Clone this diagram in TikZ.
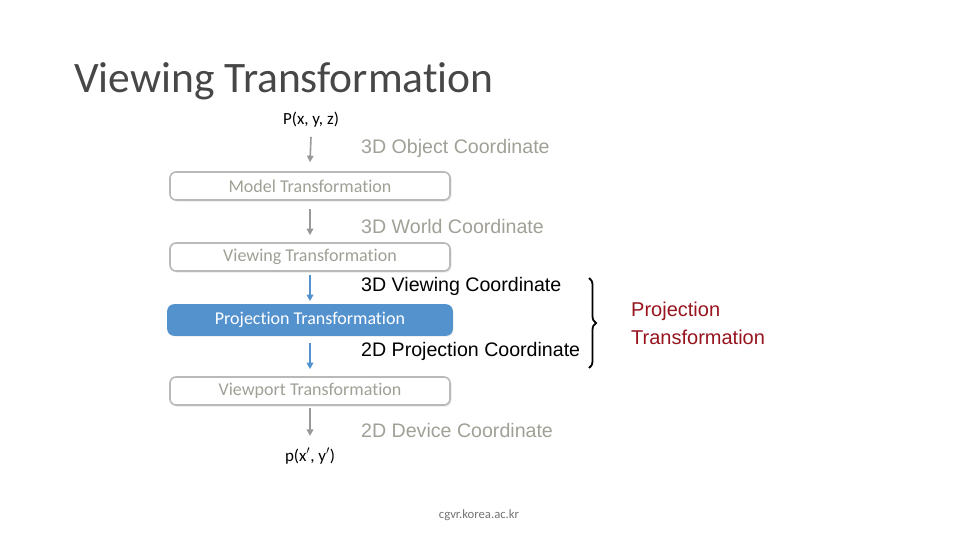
\documentclass[tikz,border=0pt]{standalone}
\usepackage{fontspec}
\setmainfont[Ligatures=NoCommon]{Carlito}
\newfontfamily\arialfont{Liberation Sans}
\usetikzlibrary{arrows.meta, positioning, decorations.pathreplacing, shadows}

\definecolor{boxgray}{RGB}{185,185,185}
\definecolor{txtgray}{RGB}{160,160,150}
\definecolor{projblue}{RGB}{84,146,206}
\definecolor{darkred}{RGB}{150,20,30}

\begin{document}
\begin{tikzpicture}[x=1pt, y=-1pt,
    stagebox/.style={draw=boxgray, line width=1.6pt, rounded corners=6pt, minimum width=280pt, minimum height=28pt, inner sep=0pt, font=\fontsize{18}{21}\selectfont, text=txtgray, drop shadow={shadow xshift=1.5pt, shadow yshift=-1.5pt, fill=black!15, opacity=0.6}, fill=white},
    activebox/.style={stagebox, draw=projblue, fill=projblue, text=white},
    coordlbl/.style={anchor=west, font=\arialfont\fontsize{19.6}{23}\selectfont, text=txtgray, inner sep=0pt},
    activelbl/.style={coordlbl, text=black},
    grayarr/.style={-{Triangle[length=6.5pt, width=6.5pt]}, line width=1.6pt, color=black!40},
    bluearr/.style={-{Triangle[length=6.5pt, width=6.5pt]}, line width=1.6pt, color=projblue}
]
\useasboundingbox (0,0) rectangle (960,540);
\node[anchor=west, inner sep=0pt, font=\fontsize{43.5}{48}\selectfont, text=black!72] (title) at (74,81) {Viewing Transformation};
\node[font=\fontsize{17}{19}\selectfont, inner sep=1pt] (pin) at (311,120) {P(x, y, z)};
\node[stagebox] (model) at (310,186) {Model Transformation};
\node[stagebox] (view) at (310,257) {Viewing Transformation};
\node[activebox, minimum height=30pt, minimum width=284pt] (proj) at (310,320) {Projection Transformation};
\node[stagebox] (port) at (310,391) {Viewport Transformation};
\node[font=\fontsize{17}{19}\selectfont, inner sep=1pt] (pout) at (310,456) {p(x$'$, y$'$)};
\node[coordlbl] (c1) at (361,148) {3D Object Coordinate};
\node[coordlbl] (c2) at (361,226) {3D World Coordinate};
\node[activelbl] (c3) at (361,286) {3D Viewing Coordinate};
\node[activelbl] (c4) at (361,351) {2D Projection Coordinate};
\node[coordlbl] (c5) at (361,430) {2D Device Coordinate};
\coordinate (btop) at (589,278);
\coordinate (bbot) at (589,368);
\draw[line width=1.8pt, decorate, decoration={brace, amplitude=7pt}] (btop) -- (bbot);
\node[anchor=west, align=left, text=darkred, font=\arialfont\fontsize{20}{28}\selectfont, inner sep=0pt] (plbl) at (631,323) {Projection\\Transformation};
\node[font=\fontsize{12.7}{15}\selectfont, text=black!55] (site) at (479,515) {cgvr.korea.ac.kr};
\draw[grayarr] ([yshift=-8pt]pin.south) -- ([yshift=9pt]model.north);
\draw[grayarr] ([yshift=-8pt]model.south) -- ([yshift=7pt]view.north);
\draw[bluearr] ([yshift=-3pt]view.south) -- ([yshift=3pt]proj.north);
\draw[bluearr] ([yshift=-7pt]proj.south) -- ([yshift=7pt]port.north);
\draw[grayarr] ([yshift=-2pt]port.south) -- ([yshift=11pt]pout.north);
\end{tikzpicture}
\end{document}
